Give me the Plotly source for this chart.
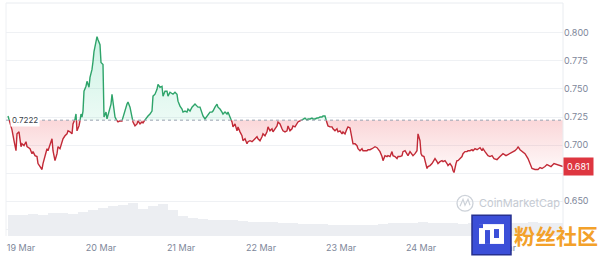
import numpy as np
import pandas as pd
import plotly.graph_objects as go

# ---------------- data ----------------
start_time = pd.Timestamp("2025-03-18 20:06")
base_price = 0.7222
last_price_label = "0.681"

hours = [0.0, 0.6, 1.2, 1.8, 2.4, 2.7, 3.3, 3.9, 4.2, 4.8, 5.4, 5.7, 6.6, 7.2, 7.5, 8.1, 8.7, 9.0, 9.6, 10.2,
         10.5, 11.1, 11.7, 12.0, 12.6, 13.2, 13.5, 14.1, 14.7, 15.0, 15.6, 16.2, 16.5, 17.1, 17.7, 18.0, 18.6, 19.2, 19.5, 20.1,
         20.4, 20.7, 21.3, 21.6, 21.9, 22.2, 22.5, 22.8, 23.4, 23.7, 24.3, 24.6, 25.2, 25.5, 25.8, 26.4, 26.7, 27.0, 27.3, 27.6,
         27.9, 28.5, 28.8, 29.4, 29.7, 30.3, 30.9, 31.2, 31.8, 32.1, 32.7, 33.0, 33.6, 34.2, 34.5, 35.1, 35.7, 36.0, 36.6, 37.2,
         37.5, 38.1, 38.7, 39.0, 39.6, 40.2, 40.5, 41.1, 41.7, 42.0, 42.6, 43.2, 43.5, 44.1, 44.7, 45.0, 45.6, 46.2, 46.5, 47.1,
         47.7, 48.0, 48.6, 49.2, 49.5, 50.1, 50.7, 51.0, 51.6, 52.2, 52.5, 53.1, 53.7, 54.0, 54.6, 55.2, 55.5, 56.1, 56.7, 57.0,
         57.6, 58.2, 58.5, 59.1, 59.7, 60.0, 60.6, 61.2, 61.5, 62.1, 62.7, 63.0, 63.6, 64.2, 64.5, 65.1, 65.7, 66.0, 66.6, 67.2,
         67.5, 68.1, 68.7, 69.0, 69.6, 70.2, 70.5, 71.1, 71.7, 72.0, 72.6, 73.2, 73.5, 74.1, 74.7, 75.0, 75.6, 76.2, 76.5, 77.1,
         77.7, 78.0, 78.6, 79.2, 79.5, 80.1, 80.7, 81.0, 81.6, 82.2, 82.5, 83.1, 83.7, 84.0, 84.6, 85.2, 85.5, 86.1, 86.7, 87.0,
         87.6, 88.2, 88.5, 89.1, 89.7, 90.0, 90.6, 91.2, 91.5, 92.1, 92.7, 93.0, 93.6, 94.2, 94.5, 95.1, 95.7, 96.0, 96.6, 97.2,
         97.5, 98.1, 98.7, 99.0, 99.6, 100.2, 100.5, 101.1, 101.7, 102.0, 102.6, 103.2, 103.5, 104.1, 104.7, 105.0, 105.6, 106.2, 106.5, 107.1,
         107.7, 108.0, 108.6, 109.2, 109.5, 110.1, 110.7, 111.0, 111.6, 112.2, 112.5, 113.1, 113.7, 114.0, 114.6, 115.2, 115.5, 116.1, 116.7, 117.0,
         117.6, 118.2, 118.5, 119.1, 119.7, 120.0, 120.6, 121.2, 121.5, 122.1, 122.7, 123.0, 123.3, 123.6, 123.9, 124.2, 124.8, 125.4, 125.7, 126.0,
         126.6, 127.2, 127.5, 128.1, 128.7, 129.0, 129.6, 130.2, 130.5, 131.1, 131.7, 132.0, 132.6, 133.2, 133.5, 133.8, 134.4, 134.7, 135.0, 135.6,
         136.2, 136.5, 137.1, 137.7, 138.0, 138.6, 139.2, 139.5, 140.1, 140.7, 141.0, 141.6, 142.2, 142.5, 143.1, 143.7, 144.0, 144.6, 145.2, 145.8,
         146.7, 147.6, 148.5, 149.4, 150.6, 151.5, 152.1, 152.7, 153.0, 153.6, 154.2, 155.1, 156.0, 156.6, 157.2, 158.1, 159.0, 159.6, 160.2, 161.1,
         161.7, 162.3, 162.9, 163.8, 164.7, 165.6, 166.5]

price = [0.7259, 0.7197, 0.7136, 0.7039, 0.6950, 0.7100, 0.7118, 0.6986, 0.7012, 0.6995, 0.7030, 0.6986, 0.6968, 0.6924, 0.6942, 0.6906, 0.6898, 0.6836, 0.6809, 0.6783,
         0.6836, 0.6898, 0.6968, 0.6950, 0.7012, 0.7056, 0.6950, 0.6862, 0.6924, 0.6986, 0.6968, 0.7039, 0.7056, 0.7083, 0.7100, 0.7127, 0.7118, 0.7100, 0.7189, 0.7233,
         0.7277, 0.7127, 0.7171, 0.7215, 0.7277, 0.7250, 0.7303, 0.7480, 0.7524, 0.7568, 0.7515, 0.7603, 0.7674, 0.7744, 0.7832, 0.7921, 0.7965, 0.7938, 0.7912, 0.7894,
         0.7735, 0.7718, 0.7250, 0.7294, 0.7233, 0.7303, 0.7365, 0.7453, 0.7277, 0.7250, 0.7215, 0.7206, 0.7215, 0.7215, 0.7250, 0.7303, 0.7365, 0.7383, 0.7338, 0.7250,
         0.7206, 0.7171, 0.7189, 0.7215, 0.7189, 0.7206, 0.7197, 0.7224, 0.7250, 0.7259, 0.7277, 0.7303, 0.7436, 0.7453, 0.7497, 0.7541, 0.7515, 0.7524, 0.7436, 0.7480,
         0.7480, 0.7436, 0.7471, 0.7453, 0.7453, 0.7471, 0.7453, 0.7391, 0.7347, 0.7321, 0.7294, 0.7303, 0.7294, 0.7321, 0.7303, 0.7338, 0.7347, 0.7365, 0.7347, 0.7338,
         0.7338, 0.7277, 0.7259, 0.7233, 0.7259, 0.7277, 0.7294, 0.7294, 0.7303, 0.7338, 0.7365, 0.7338, 0.7321, 0.7294, 0.7277, 0.7294, 0.7277, 0.7294, 0.7250, 0.7206,
         0.7162, 0.7189, 0.7127, 0.7162, 0.7118, 0.7083, 0.7039, 0.7056, 0.7012, 0.7030, 0.7039, 0.7030, 0.7039, 0.7056, 0.7074, 0.7056, 0.7039, 0.7074, 0.7100, 0.7083,
         0.7118, 0.7162, 0.7127, 0.7145, 0.7118, 0.7145, 0.7171, 0.7206, 0.7189, 0.7145, 0.7127, 0.7118, 0.7127, 0.7171, 0.7127, 0.7145, 0.7171, 0.7162, 0.7189, 0.7206,
         0.7215, 0.7224, 0.7233, 0.7241, 0.7224, 0.7233, 0.7233, 0.7241, 0.7233, 0.7233, 0.7241, 0.7241, 0.7250, 0.7250, 0.7259, 0.7259, 0.7197, 0.7171, 0.7162, 0.7162,
         0.7145, 0.7127, 0.7145, 0.7118, 0.7127, 0.7100, 0.7118, 0.7100, 0.7145, 0.7162, 0.7153, 0.7039, 0.7012, 0.7012, 0.6995, 0.6968, 0.6950, 0.6968, 0.6950, 0.6950,
         0.6950, 0.6959, 0.6959, 0.6968, 0.6977, 0.6986, 0.6977, 0.6968, 0.6942, 0.6898, 0.6862, 0.6906, 0.6898, 0.6906, 0.6898, 0.6942, 0.6906, 0.6898, 0.6880, 0.6898,
         0.6898, 0.6906, 0.6942, 0.6950, 0.6924, 0.6906, 0.6942, 0.6924, 0.6906, 0.6924, 0.6950, 0.7100, 0.7056, 0.7039, 0.6924, 0.6906, 0.6898, 0.6809, 0.6792, 0.6809,
         0.6818, 0.6836, 0.6853, 0.6880, 0.6853, 0.6836, 0.6853, 0.6862, 0.6853, 0.6862, 0.6836, 0.6818, 0.6836, 0.6809, 0.6774, 0.6756, 0.6836, 0.6862, 0.6862, 0.6880,
         0.6898, 0.6924, 0.6942, 0.6942, 0.6950, 0.6950, 0.6959, 0.6950, 0.6968, 0.6959, 0.6968, 0.6977, 0.6950, 0.6968, 0.6942, 0.6924, 0.6906, 0.6898, 0.6906, 0.6880,
         0.6871, 0.6898, 0.6924, 0.6906, 0.6924, 0.6942, 0.6950, 0.6968, 0.6986, 0.6959, 0.6942, 0.6924, 0.6880, 0.6836, 0.6792, 0.6783, 0.6783, 0.6800, 0.6792, 0.6809,
         0.6827, 0.6818, 0.6809, 0.6836, 0.6827, 0.6818, 0.6809]

# volume, 3-hour buckets (relative units)
vol_hours = [1.5 + 3 * i for i in range(56)]
volume = [21, 21, 22, 21, 23, 23, 22, 24, 26, 28, 30, 31, 33, 27, 30, 32, 26, 20, 18, 17,
          16, 16, 16, 15, 14, 14, 14, 13, 13, 12, 12, 12, 11, 11, 11, 11, 11, 12, 13, 13,
          13, 14, 13, 13, 13, 12, 13, 13, 13, 14, 13, 13, 14, 13, 13, 13]

tick_days = ["2025-03-19", "2025-03-20", "2025-03-21", "2025-03-22", "2025-03-23", "2025-03-24", "2025-03-25"]
price_ticks = [0.625, 0.650, 0.675, 0.700, 0.725, 0.750, 0.775, 0.800]
price_tick_text = ["", "0.650", "", "0.700", "0.725", "0.750", "0.775", "0.800"]

# ---------------- derived (crossings of baseline) ----------------
t = np.array(hours, dtype=float)
p = np.array(price, dtype=float)
xs, ys = [t[0]], [p[0]]
for i in range(1, len(t)):
    a, b = p[i - 1] - base_price, p[i] - base_price
    if a * b < 0:
        xs.append(t[i - 1] + (t[i] - t[i - 1]) * a / (a - b))
        ys.append(base_price)
    xs.append(t[i])
    ys.append(p[i])
xs = np.array(xs)
ys = np.array(ys)
times = start_time + pd.to_timedelta(xs, unit="h")
up_line = [v if v >= base_price else None for v in ys]
dn_line = [v if v <= base_price else None for v in ys]
upper = np.maximum(ys, base_price)
lower = np.minimum(ys, base_price)
basel = np.full(len(ys), base_price)
vol_times = start_time + pd.to_timedelta(np.array(vol_hours), unit="h")

GREEN = "#2ea46a"
RED = "#c22a37"

fig = go.Figure()
# volume
fig.add_trace(go.Bar(x=vol_times, y=volume, yaxis="y2", marker=dict(color="#eceef2", line=dict(width=0)),
                     width=3 * 3600 * 1000, hoverinfo="skip"))
# fills
fig.add_trace(go.Scatter(x=times, y=basel, mode="lines", line=dict(width=0), hoverinfo="skip"))
fig.add_trace(go.Scatter(x=times, y=upper, mode="lines", line=dict(width=0), fill="tonexty",
                         fillgradient=dict(type="vertical", start=base_price, stop=0.80,
                                           colorscale=[[0, "rgba(22,199,132,0.08)"], [1, "rgba(22,199,132,0.22)"]]),
                         hoverinfo="skip"))
fig.add_trace(go.Scatter(x=times, y=basel, mode="lines", line=dict(width=0), hoverinfo="skip"))
fig.add_trace(go.Scatter(x=times, y=lower, mode="lines", line=dict(width=0), fill="tonexty",
                         fillgradient=dict(type="vertical", start=0.675, stop=base_price,
                                           colorscale=[[0, "rgba(234,57,67,0.02)"], [1, "rgba(234,57,67,0.20)"]]),
                         hoverinfo="skip"))
# lines
fig.add_trace(go.Scatter(x=times, y=up_line, mode="lines", line=dict(color=GREEN, width=1.4), connectgaps=False))
fig.add_trace(go.Scatter(x=times, y=dn_line, mode="lines", line=dict(color=RED, width=1.4), connectgaps=False))

# geometry helpers for decorations (paper coords)
L, R, T, B = 6, 37, 3, 18
W, H = 600 - L - R, 256 - T - B
def px(x):
    return (x - L) / W
def py(y):
    return (256 - B - y) / H

x_start = start_time - pd.Timedelta(hours=0.6)
x_end = start_time + pd.Timedelta(hours=166.5)

fig.update_layout(
    width=600, height=256,
    margin=dict(l=L, r=R, t=T, b=B),
    paper_bgcolor="white", plot_bgcolor="white",
    showlegend=False, bargap=0,
    font=dict(family="Inter, Roboto, sans-serif", color="#7e879a", size=9),
    xaxis=dict(range=[x_start, x_end], tickvals=pd.to_datetime(tick_days), tickformat="%-d %b",
               showgrid=False, zeroline=False, ticks="", showline=False, ticklabelstandoff=5,
               tickfont=dict(size=9, color="#7e879a")),
    yaxis=dict(range=[0.6191, 0.8265], side="right", tickvals=price_ticks,
               ticktext=price_tick_text, showgrid=True, gridcolor="#eff1f4", gridwidth=1,
               zeroline=False, ticks="", showline=False, tickfont=dict(size=9, color="#7e879a")),
    yaxis2=dict(range=[0, 235], overlaying="y", visible=False),
)

shapes = [
    dict(type="line", xref="paper", yref="paper", x0=0, x1=1, y0=1, y1=1, line=dict(color="#e9ecf0", width=1)),
    dict(type="line", xref="paper", yref="paper", x0=0, x1=0, y0=0, y1=1, line=dict(color="#eef0f3", width=1)),
    dict(type="line", xref="paper", yref="paper", x0=1, x1=1, y0=0, y1=1, line=dict(color="#e9ecf0", width=1)),
    dict(type="line", xref="paper", yref="y", x0=0, x1=1, y0=base_price, y1=base_price,
         line=dict(color="#9aa2b1", width=1, dash="dot")),
    # CoinMarketCap watermark icon
    dict(type="circle", xref="paper", yref="paper", x0=px(457), x1=px(473), y0=py(213), y1=py(197),
         line=dict(color="#cdd2d9", width=1.3)),
    dict(type="path", xref="paper", yref="paper",
         path=f"M {px(460)} {py(208)} L {px(463)} {py(201)} L {px(465)} {py(207)} L {px(468)} {py(201)} L {px(470)} {py(207)}",
         line=dict(color="#cdd2d9", width=1.2)),
    # badge logo
    dict(type="rect", xref="paper", yref="paper", x0=px(472), x1=px(511), y0=py(257), y1=py(217),
         fillcolor="#3b4fd8", line=dict(color="#26308f", width=1.5), layer="above"),
    dict(type="rect", xref="paper", yref="paper", x0=px(479), x1=px(504), y0=py(246), y1=py(226),
         fillcolor="white", line=dict(width=0), layer="above"),
    dict(type="rect", xref="paper", yref="paper", x0=px(485), x1=px(490), y0=py(246), y1=py(232),
         fillcolor="#3b4fd8", line=dict(width=0), layer="above"),
    dict(type="rect", xref="paper", yref="paper", x0=px(494), x1=px(499), y0=py(240), y1=py(231),
         fillcolor="#3b4fd8", line=dict(width=0), layer="above"),
    dict(type="rect", xref="paper", yref="paper", x0=px(479), x1=px(483), y0=py(230), y1=py(226),
         fillcolor="#3b4fd8", line=dict(width=0), layer="above"),
]
fig.update_layout(shapes=shapes)

annotations = [
    dict(xref="paper", yref="y", x=px(10), y=base_price, text="0.7222", showarrow=False, xanchor="left",
         yanchor="middle", bgcolor="white", borderpad=1, font=dict(size=8, color="#3a3f4a")),
    dict(xref="paper", yref="y", x=1, y=price[-1], text=last_price_label, showarrow=False, xanchor="left",
         yanchor="middle", bgcolor="#de3640", borderpad=3, font=dict(size=9, color="white")),
    dict(xref="paper", yref="paper", x=px(477), y=py(205), text="CoinMarketCap", showarrow=False,
         xanchor="left", yanchor="middle", font=dict(size=11, color="#c5cad2")),
    dict(xref="paper", yref="paper", x=px(512), y=py(237), text="<b>粉丝社区</b>", showarrow=False,
         xanchor="left", yanchor="middle", font=dict(size=21, color="#f3a12a", family="Noto Sans CJK SC")),
]
fig.update_layout(annotations=annotations)

fig.write_html("out.html")
